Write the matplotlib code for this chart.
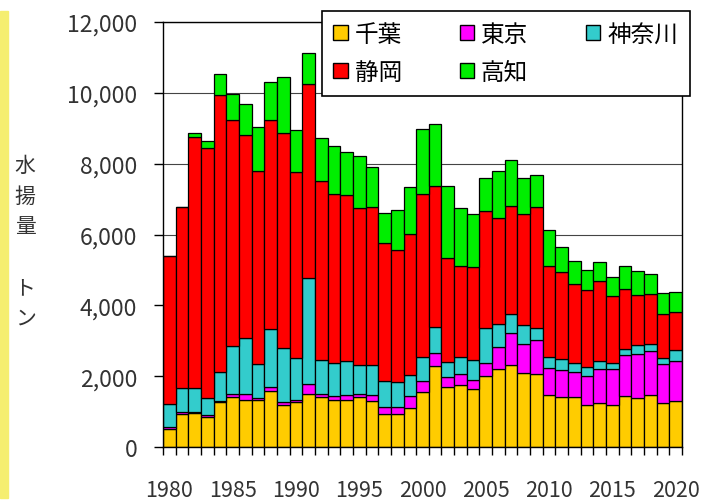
import numpy as np
import matplotlib
matplotlib.use("Agg")
from matplotlib import pyplot as plt
from matplotlib.patches import Patch, Rectangle

plt.rcParams['font.family'] = ['Noto Sans CJK JP', 'DejaVu Sans']

# 水揚量 (トン), 1980-2020
years = list(range(1980, 2021))
chiba = [500, 940, 960, 850, 1270, 1400, 1340, 1320, 1580, 1200, 1270,
         1510, 1400, 1320, 1340, 1400, 1300, 940, 920, 1110, 1540,
         2280, 1700, 1750, 1650, 2000, 2190, 2310, 2080, 2050, 1480,
         1400, 1400, 1180, 1250, 1180, 1440, 1370, 1460, 1230, 1290]
tokyo = [60, 40, 40, 40, 30, 110, 150, 50, 120, 80, 50,
         280, 110, 120, 120, 110, 160, 190, 220, 330, 320,
         380, 280, 300, 240, 380, 640, 900, 830, 970, 740,
         770, 730, 830, 960, 1010, 1150, 1250, 1250, 1110, 1130]
kanagawa = [660, 700, 680, 500, 820, 1350, 1590, 970, 1620, 1510, 1180,
            2990, 940, 920, 970, 800, 850, 730, 690, 600, 670,
            740, 430, 480, 570, 990, 630, 540, 540, 330, 310,
            310, 230, 240, 220, 190, 170, 250, 190, 180, 330]
shizuoka = [4180, 5110, 7060, 7050, 7810, 6370, 5730, 5460, 5900, 6080, 5260,
            5470, 5070, 4790, 4690, 4450, 4480, 3890, 3740, 3970, 4610,
            3960, 2920, 2580, 2610, 3280, 3000, 3050, 3130, 3440, 2570,
            2450, 2250, 2170, 2250, 1870, 1700, 1430, 1410, 1230, 1070]
kochi = [0, 0, 120, 190, 600, 730, 870, 1230, 1090, 1580, 1180,
         880, 1200, 1360, 1200, 1470, 1110, 870, 1110, 1340, 1850,
         1750, 2030, 1650, 1520, 940, 1320, 1300, 1020, 900, 1020,
         730, 630, 590, 550, 540, 650, 680, 570, 590, 570]

names = ['千葉', '東京', '神奈川', '静岡', '高知']
colors = ['#FFCC00', '#FF00FF', '#33CCCC', '#FF0000', '#00EE00']
series = [chiba, tokyo, kanagawa, shizuoka, kochi]

fig = plt.figure(figsize=(7.12, 5.02), dpi=100)
ax = fig.add_axes([163/712, 1-448/502, (682-163)/712, (448-23)/502])

x = np.arange(len(years))
bottom = np.zeros(len(years))
for vals, c, n in zip(series, colors, names):
    v = np.array(vals)
    ax.bar(x, v, width=1.0, bottom=bottom, color=c, edgecolor='black',
           linewidth=0.9, label=n, zorder=2)
    bottom += v

ax.set_xlim(-0.5, len(years)-0.5)
ax.set_ylim(0, 12000)
ax.set_yticks(range(0, 12001, 2000))
ax.set_yticklabels(['{:,}'.format(v) for v in range(0, 12001, 2000)])
ax.yaxis.grid(True, color='#444444', linewidth=0.8)
ax.set_axisbelow(True)

# ticks at category boundaries, labels every 5 years
ax.set_xticks(np.arange(-0.5, len(years)))
ax.set_xticklabels([])
lab_pos = [i for i, yr in enumerate(years) if yr % 5 == 0]
ax.set_xticks(lab_pos, minor=True)
ax.set_xticklabels([str(years[i]) for i in lab_pos], minor=True)
ax.tick_params(axis='x', which='major', direction='out', length=6, width=1)
ax.tick_params(axis='x', which='minor', length=0, pad=23, labelsize=15.5, colors='#333333')
ax.tick_params(axis='y', direction='out', length=6.5, width=1, pad=12, labelsize=16.5, colors='#333333')
ax.tick_params(axis='both', which='both', color='black')
for s in ax.spines.values():
    s.set_color('black')
    s.set_linewidth(1.0)

fig.text(25/712, 1-155/502, '水\n揚\n量\n\nト\nン', ha='center', va='top',
         fontsize=15, linespacing=1.5, color='#333333')

# yellow strip on the left edge
fig.patches.append(Rectangle((0, 0.005), 8/712, 1-15/502, transform=fig.transFigure,
                             color='#F5EE70', zorder=0))

handles = [Patch(facecolor=c, edgecolor='black', linewidth=1) for c in colors]
order = [0, 3, 1, 4, 2]
leg = ax.legend([handles[i] for i in order], [names[i] for i in order], ncol=3,
                loc='upper right', bbox_to_anchor=(690/712, 1-12/502),
                bbox_transform=fig.transFigure, fontsize=17, frameon=True,
                fancybox=False, framealpha=1, edgecolor='black',
                handlelength=0.6, handleheight=0.6, handletextpad=0.3,
                columnspacing=2.45, labelspacing=0.65, borderpad=0.5,
                borderaxespad=0)
leg.get_frame().set_linewidth(1.2)
leg.set_zorder(5)

fig.savefig('out.png', dpi=100)
